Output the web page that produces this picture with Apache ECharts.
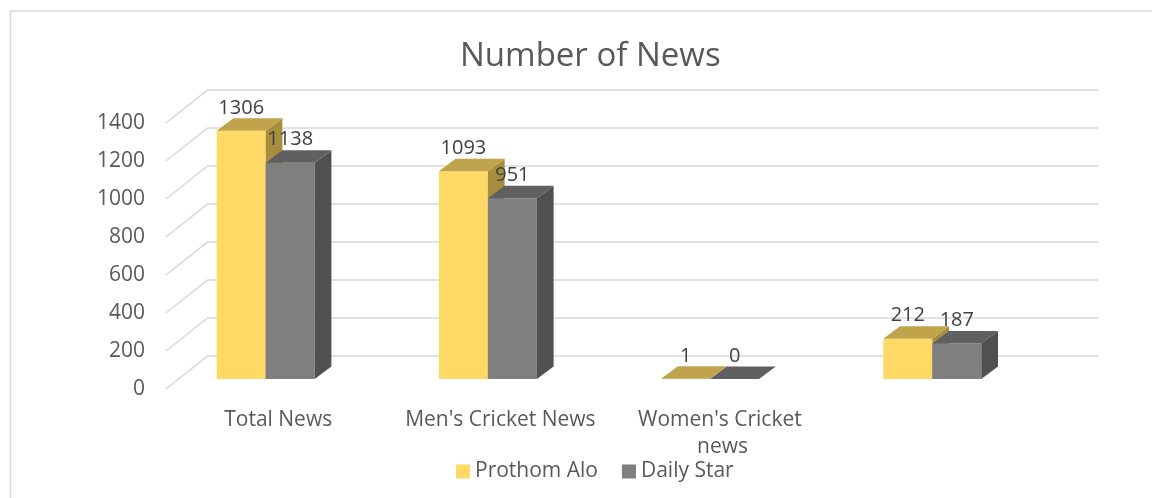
<!DOCTYPE html>
<html>
<head>
<meta charset="utf-8">
<script src="https://cdn.jsdelivr.net/npm/echarts@6/dist/echarts.min.js"></script>
<style>
html,body{margin:0;padding:0;background:#fff;}
#chart{width:1152px;height:498px;}
</style>
</head>
<body>
<div id="chart"></div>
<script>
// ---- data ----
const categories = ['Total News', "Men's Cricket News", "Women's Cricket news", ''];
const seriesNames = ['Prothom Alo', 'Daily Star'];
const prothomAlo = [1306, 1093, 1, 212];
const dailyStar = [1138, 951, 0, 187];
const yTicks = [0, 200, 400, 600, 800, 1000, 1200, 1400];

// ---- style ----
const FONT = 'Open Sans';
const TEXT = '#595959';
const LABEL = '#404040';
const GRIDC = '#d9d9d9';
const faces = [
  { front: '#FFD966', top: '#C0A44B', side: '#A68E3E' },
  { front: '#7F7F7F', top: '#606060', side: '#505050' }
];
const DEPTH = [16.7, -12.5];
const FLOOR = [42, -33.3];
const yMin = yTicks[0], yMax = yTicks[yTicks.length - 1], yStep = yTicks[1] - yTicks[0];

const chart = echarts.init(document.getElementById('chart'), null, { renderer: 'canvas' });

function barRender(sIdx) {
  return function (params, api) {
    const cat = api.value(0), val = api.value(1);
    const base = api.coord([cat, 0]);
    const top = api.coord([cat, val]);
    const band = api.size([1, 0])[0];
    const bw = band * 0.2205;
    const x0 = base[0] + (sIdx - 1) * bw;
    const x1 = x0 + bw;
    const yb = base[1], yt = top[1];
    const dx = DEPTH[0], dy = DEPTH[1];
    const f = faces[sIdx];
    return {
      type: 'group',
      children: [
        { type: 'rect', shape: { x: x0, y: yt, width: bw, height: yb - yt }, style: { fill: f.front } },
        { type: 'polygon', shape: { points: [[x1, yt], [x1 + dx, yt + dy], [x1 + dx, yb + dy], [x1, yb]] }, style: { fill: f.side } },
        { type: 'polygon', shape: { points: [[x0, yt], [x1, yt], [x1 + dx, yt + dy], [x0 + dx, yt + dy]] }, style: { fill: f.top } },
        { type: 'text', x: x0 + bw / 2, y: yt + dy - 10.5, style: { text: String(val), fill: LABEL, font: '20px "' + FONT + '"', align: 'center', verticalAlign: 'middle' } }
      ]
    };
  };
}

const option = {
  animation: false,
  backgroundColor: '#fff',
  textStyle: { fontFamily: FONT },
  graphic: [
    { type: 'rect', shape: { x: 10.5, y: 11, width: 1300, height: 700 }, style: { fill: null, stroke: GRIDC, lineWidth: 1.5 }, silent: true, z: -10 }
  ],
  title: {
    text: 'Number of News',
    left: 455,
    top: 35,
    textStyle: { fontFamily: FONT, fontSize: 33, fontWeight: 'normal', color: TEXT }
  },
  legend: {
    data: seriesNames,
    left: 451,
    top: 456,
    icon: 'rect',
    itemWidth: 14,
    itemHeight: 14,
    itemGap: 24,
    textStyle: { fontFamily: FONT, fontSize: 21, color: TEXT }
  },
  grid: [
    { left: 208, top: 89.7, width: 890, height: 266, containLabel: false }, // back wall
    { left: 166, top: 123, width: 890, height: 266, containLabel: false },  // floor front / y labels
    { left: 154.6, top: 113, width: 888.8, height: 266, containLabel: false }, // bar front plane
    { left: 167.1, top: 113, width: 888.8, height: 266, containLabel: false }  // category labels
  ],
  xAxis: [
    { gridIndex: 0, type: 'value', min: 0, max: 1, show: false },
    { gridIndex: 1, type: 'value', min: 0, max: 1, show: false },
    { gridIndex: 2, type: 'category', data: categories, show: false },
    { gridIndex: 3, type: 'category', data: categories,
      axisLine: { show: false }, axisTick: { show: false }, splitLine: { show: false },
      axisLabel: { interval: 0, margin: 28, fontFamily: FONT, fontSize: 21, color: TEXT, lineHeight: 27, width: 210, overflow: 'break' } }
  ],
  yAxis: [
    { gridIndex: 0, type: 'value', min: yMin, max: yMax, interval: yStep,
      axisLine: { show: false }, axisTick: { show: false }, axisLabel: { show: false },
      splitLine: { show: true, lineStyle: { color: GRIDC, width: 1.5 } } },
    { gridIndex: 1, type: 'value', min: yMin, max: yMax, interval: yStep,
      axisLine: { show: false }, axisTick: { show: false }, splitLine: { show: false },
      axisLabel: { margin: 21, fontFamily: FONT, fontSize: 21, color: TEXT, formatter: v => String(v) } },
    { gridIndex: 2, type: 'value', min: yMin, max: yMax, interval: yStep, show: false },
    { gridIndex: 3, type: 'value', min: yMin, max: yMax, interval: yStep, show: false }
  ],
  series: [
    {
      type: 'custom', name: 'floor', xAxisIndex: 1, yAxisIndex: 1, silent: true, z: 1,
      data: yTicks.map(v => [0, v]),
      renderItem: function (params, api) {
        const p = api.coord([0, api.value(1)]);
        return { type: 'line', shape: { x1: p[0], y1: p[1], x2: p[0] + FLOOR[0], y2: p[1] + FLOOR[1] }, style: { stroke: GRIDC, lineWidth: 1.5 } };
      }
    },
    {
      type: 'custom', name: seriesNames[0], xAxisIndex: 2, yAxisIndex: 2, z: 3,
      itemStyle: { color: faces[0].front },
      data: prothomAlo.map((v, i) => [i, v]),
      renderItem: barRender(0)
    },
    {
      type: 'custom', name: seriesNames[1], xAxisIndex: 2, yAxisIndex: 2, z: 4,
      itemStyle: { color: faces[1].front },
      data: dailyStar.map((v, i) => [i, v]),
      renderItem: barRender(1)
    }
  ]
};
chart.setOption(option);
</script>
</body>
</html>
